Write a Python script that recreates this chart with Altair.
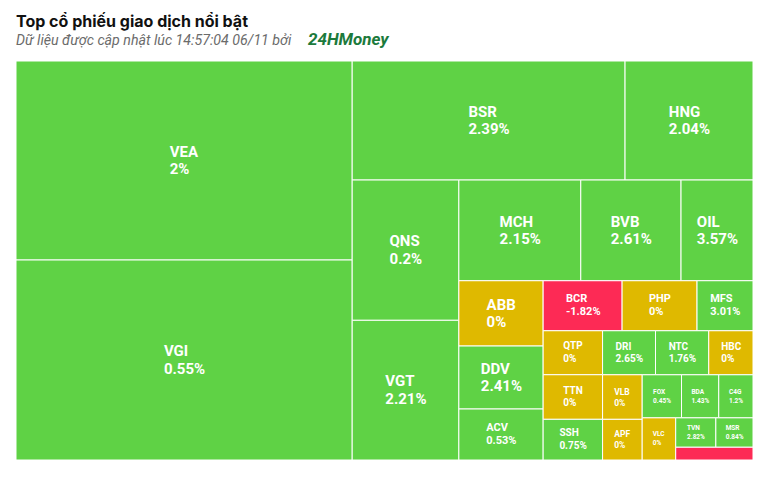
import altair as alt
import pandas as pd

# ---------------- data ----------------
tickers = ["VEA", "VGI", "BSR", "HNG", "QNS", "VGT", "MCH", "BVB", "OIL", "ABB",
           "DDV", "ACV", "BCR", "PHP", "MFS", "QTP", "TTN", "SSH", "DRI", "NTC",
           "HBC", "VLB", "APF", "FOX", "BDA", "C4G", "VLC", "TVN", "MSR", ""]
# relative trading size (estimated from tile areas)
sizes = [66924, 67260, 32487, 15232, 14970, 14906, 12285, 10100, 7250, 5505,
         5311, 4299, 3950, 3750, 2800, 2614, 2649, 2418, 2332, 2345,
         1949, 1766, 1612, 1694, 1604, 1475, 1413, 1181, 1093, 985]
# price change in %, last tile unreadable (red => negative)
changes = [2, 0.55, 2.39, 2.04, 0.2, 2.21, 2.15, 2.61, 3.57, 0,
           2.41, 0.53, -1.82, 0, 3.01, 0, 0, 0.75, 2.65, 1.76,
           0, 0, 0, 0.45, 1.43, 1.2, 0, 2.82, 0.84, -1.0]

title_text = "Top cổ phiếu giao dịch nổi bật"
subtitle_text = "Dữ liệu được cập nhật lúc 14:57:04 06/11 bởi"
brand_text = "24HMoney"

W, H = 737, 399  # plot area in pixels


# ---------------- treemap layout (Highcharts-style squarified) ----------------
class Group:
    def __init__(self, h, w, d):
        self.height, self.width, self.direction = h, w, d
        self.total = 0.0
        self.nW = self.lW = self.nH = self.lH = 0.0
        self.elArr = []
        self.lR = self.nR = float("nan")

    def add(self, el):
        last = self.elArr[-1] if self.elArr else None
        self.total += el
        if self.direction == 0:
            self.lW = self.nW
            self.nW = self.total / self.height
            if last is not None and self.lW > 0:
                lH = last / self.lW
                self.lR = max(self.lW / lH, lH / self.lW)
                nH = last / self.nW
                self.nR = max(self.nW / nH, nH / self.nW)
            else:
                self.lR = self.nR = float("nan")
        else:
            self.lH = self.nH
            self.nH = self.total / self.width
            if last is not None and self.lH > 0:
                lW = last / self.lH
                self.lR = max(lW / self.lH, self.lH / lW)
                nW = last / self.nH
                self.nR = max(nW / self.nH, self.nH / nW)
            else:
                self.lR = self.nR = float("nan")
        self.elArr.append(el)

    def reset(self):
        self.nW = self.lW = 0.0
        self.elArr = []
        self.total = 0.0


def squarified(vals, width, height):
    tot = sum(vals)
    areas = [v / tot * width * height for v in vals]
    g = Group(height, width, 0)
    pos = {"x": 0.0, "y": 0.0}
    out = []

    def calc(last):
        if last:
            gW, gH = g.nW, g.nH
            items = list(g.elArr)
            keep = None
        else:
            gW, gH = g.lW, g.lH
            items = g.elArr[:-1]
            keep = g.elArr[-1]
        for p in items:
            if g.direction == 0:
                out.append((pos["x"], pos["y"], gW, p / gW))
                pos["y"] += p / gW
            else:
                out.append((pos["x"], pos["y"], p / gH, gH))
                pos["x"] += p / gH
        g.reset()
        if g.direction == 0:
            g.width -= gW
        else:
            g.height -= gH
        pos["y"] = height - g.height
        pos["x"] = width - g.width
        g.direction = 1 - g.direction
        if keep is not None:
            g.add(keep)

    for i, a in enumerate(areas):
        g.add(a)
        if g.nR > g.lR:
            calc(False)
        if i == len(areas) - 1:
            calc(True)
    return out


rects = squarified(sizes, W, H)

GREEN, YELLOW, RED = "#5fd245", "#dfb900", "#fd2a55"


def text_width(s, fs):
    w = 0.0
    for ch in s:
        if ch.isdigit():
            w += 0.562
        elif ch == ".":
            w += 0.28
        elif ch == "%":
            w += 0.73
        elif ch == "-":
            w += 0.34
        elif ch in "I":
            w += 0.29
        elif ch in "M":
            w += 0.86
        else:
            w += 0.64
    return w * fs


rows = []
for name, chg, (x, y, w, h) in zip(tickers, changes, rects):
    col = GREEN if chg > 0 else (YELLOW if chg == 0 else RED)
    m = min(w, h)
    if m >= 60:
        fs = 15
    elif m >= 48:
        fs = 11
    elif m >= 40.5:
        fs = 10
    elif m >= 39.5:
        fs = 8.5
    else:
        fs = 6.5
    show = m >= 20 and name != ""
    val = f"{chg:g}%"
    bw = max(text_width(name, fs), text_width(val, fs))
    ls = fs + 2.5
    cx, cy = x + w / 2, y + h / 2
    rows.append(dict(name=name, val=val, x0=x, x1=x + w, y0=y, y1=y + h,
                     col=col, fs=fs, tx=cx - bw / 2,
                     ty1=cy - ls / 2, ty2=cy + ls / 2, show=show))

df = pd.DataFrame(rows)
lab = df[df["show"]]

xs = alt.Scale(domain=[0, W], nice=False, zero=False)
ys = alt.Scale(domain=[0, H], nice=False, zero=False, reverse=True)

cells = alt.Chart(df).mark_rect(stroke="white", strokeWidth=1).encode(
    x=alt.X("x0:Q", scale=xs, axis=None),
    x2="x1:Q",
    y=alt.Y("y0:Q", scale=ys, axis=None),
    y2="y1:Q",
    color=alt.Color("col:N", scale=None),
)

name_txt = alt.Chart(lab).mark_text(
    align="left", baseline="middle", font="Roboto", fontWeight="bold", color="white"
).encode(
    x=alt.X("tx:Q", scale=xs, axis=None),
    y=alt.Y("ty1:Q", scale=ys, axis=None),
    text="name:N",
    size=alt.Size("fs:Q", scale=None),
)

val_txt = alt.Chart(lab).mark_text(
    align="left", baseline="middle", font="Roboto", fontWeight="bold", color="white"
).encode(
    x=alt.X("tx:Q", scale=xs, axis=None),
    y=alt.Y("ty2:Q", scale=ys, axis=None),
    text="val:N",
    size=alt.Size("fs:Q", scale=None),
)

one = pd.DataFrame({"k": [0]})
title_mark = alt.Chart(one).mark_text(
    text=title_text, align="left", baseline="alphabetic", font="Inter",
    fontWeight="bold", fontSize=16, color="#111111"
).encode(x=alt.value(0), y=alt.value(-34))

sub_mark = alt.Chart(one).mark_text(
    text=subtitle_text, align="left", baseline="alphabetic", font="Roboto",
    fontStyle="italic", fontSize=14.2, color="#6b6b6b"
).encode(x=alt.value(0), y=alt.value(-16))

brand_mark = alt.Chart(one).mark_text(
    text=brand_text, align="left", baseline="alphabetic", font="Roboto",
    fontStyle="italic", fontWeight="bold", fontSize=17, color="#1c7a3c"
).encode(x=alt.value(292), y=alt.value(-16))

chart = alt.layer(cells, name_txt, val_txt, title_mark, sub_mark, brand_mark).properties(
    width=W, height=H,
    autosize=alt.AutoSizeParams(type="none"),
    padding={"left": 8, "top": 53, "right": 8, "bottom": 4},
    background="white",
).configure_view(stroke=None)

chart.save("out.html", embed_options={"renderer": "svg", "actions": False})
